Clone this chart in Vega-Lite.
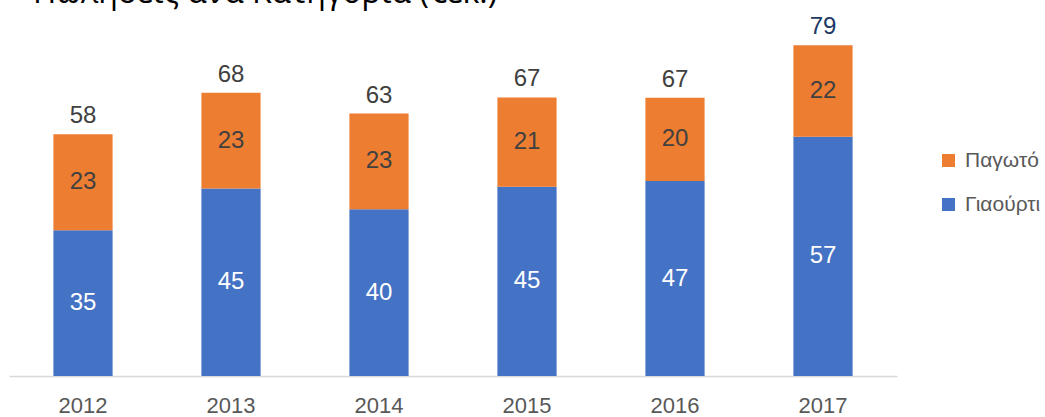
{
  "$schema": "https://vega.github.io/schema/vega-lite/v6.json",
  "width": 888,
  "height": 375,
  "autosize": {"type": "none"},
  "padding": {"left": 9, "top": 1, "right": 148, "bottom": 41},
  "background": "white",
  "view": {"stroke": null},
  "title": {
    "text": "Πωλήσεις ανά Κατηγορία (€εκ.)",
    "anchor": "start",
    "frame": "group",
    "orient": "top",
    "baseline": "alphabetic",
    "offset": 0,
    "dx": 24,
    "dy": 34,
    "font": "Open Sans",
    "fontSize": 32,
    "fontWeight": "normal",
    "color": "#000000"
  },
  "data": {
    "values": [
      {"year": "2012", "cat": "Γιαούρτι", "amount": 35},
      {"year": "2012", "cat": "Παγωτό", "amount": 23},
      {"year": "2013", "cat": "Γιαούρτι", "amount": 45},
      {"year": "2013", "cat": "Παγωτό", "amount": 23},
      {"year": "2014", "cat": "Γιαούρτι", "amount": 40},
      {"year": "2014", "cat": "Παγωτό", "amount": 23},
      {"year": "2015", "cat": "Γιαούρτι", "amount": 45.4},
      {"year": "2015", "cat": "Παγωτό", "amount": 21.45},
      {"year": "2016", "cat": "Γιαούρτι", "amount": 46.8},
      {"year": "2016", "cat": "Παγωτό", "amount": 20},
      {"year": "2017", "cat": "Γιαούρτι", "amount": 57.4},
      {"year": "2017", "cat": "Παγωτό", "amount": 22}
    ]
  },
  "encoding": {
    "x": {
      "field": "year",
      "type": "nominal",
      "scale": {"paddingInner": 0.6, "paddingOuter": 0.3},
      "axis": {
        "title": null,
        "labelAngle": 0,
        "ticks": false,
        "labelPadding": 19,
        "labelFont": "Liberation Sans",
        "labelFontSize": 22,
        "labelColor": "#595959",
        "domainColor": "#d9d9d9",
        "domainWidth": 1.5,
        "grid": false
      }
    }
  },
  "layer": [
    {
      "mark": {"type": "bar"},
      "encoding": {
        "y": {
          "field": "amount",
          "type": "quantitative",
          "stack": "zero",
          "scale": {"domain": [0, 90]},
          "axis": null
        },
        "color": {
          "field": "cat",
          "type": "nominal",
          "scale": {"domain": ["Γιαούρτι", "Παγωτό"], "range": ["#4472C4", "#ED7D31"]},
          "legend": {
            "title": null,
            "orient": "none",
            "legendX": 929,
            "legendY": 149,
            "values": ["Παγωτό", "Γιαούρτι"],
            "symbolType": "square",
            "symbolSize": 169,
            "symbolStrokeWidth": 0,
            "labelFont": "Liberation Sans",
            "labelFontSize": 21,
            "labelColor": "#595959",
            "labelOffset": 6,
            "rowPadding": 22,
            "padding": 0
          }
        },
        "order": {"field": "cat", "sort": "ascending"}
      }
    },
    {
      "transform": [
        {"stack": "amount", "groupby": ["year"], "sort": [{"field": "cat", "order": "ascending"}], "as": ["v0", "v1"]},
        {"fold": ["v0", "v1"], "as": ["k", "pos"]},
        {"aggregate": [{"op": "mean", "field": "pos", "as": "mid"}], "groupby": ["year", "cat", "amount"]}
      ],
      "mark": {"type": "text", "font": "Liberation Sans", "fontSize": 24, "baseline": "middle", "align": "center"},
      "encoding": {
        "y": {"field": "mid", "type": "quantitative", "scale": {"domain": [0, 90]}},
        "text": {"field": "amount", "type": "quantitative", "format": ".0f"},
        "color": {
          "condition": {"test": "datum.cat === 'Γιαούρτι'", "value": "#ffffff"},
          "value": "#404040"
        }
      }
    },
    {
      "transform": [
        {"aggregate": [{"op": "sum", "field": "amount", "as": "total"}], "groupby": ["year"]}
      ],
      "mark": {"type": "text", "font": "Liberation Sans", "fontSize": 24, "baseline": "alphabetic", "align": "center", "dy": -11},
      "encoding": {
        "y": {"field": "total", "type": "quantitative", "scale": {"domain": [0, 90]}},
        "text": {"field": "total", "type": "quantitative", "format": ".0f"},
        "color": {
          "condition": {"test": "datum.year === '2017'", "value": "#203864"},
          "value": "#404040"
        }
      }
    }
  ]
}
